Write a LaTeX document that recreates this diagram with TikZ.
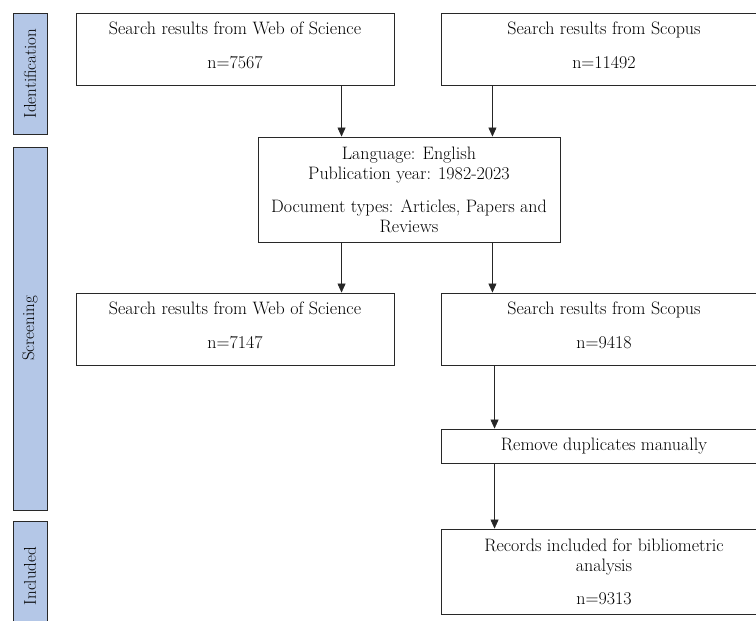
\documentclass[tikz,border=0pt]{standalone}
\usepackage{tikz}
\usetikzlibrary{arrows.meta, positioning, calc}
\definecolor{stageblue}{RGB}{180, 199, 231}
\definecolor{edgegray}{RGB}{40, 40, 40}

\begin{document}
\begin{tikzpicture}[x=1pt, y=-1pt,
    box/.style={draw=edgegray, line width=0.9pt, rectangle, align=center, inner sep=0pt, font=\fontsize{18}{20}\selectfont},
    stage/.style={draw=edgegray, line width=0.9pt, fill=stageblue, rectangle, minimum width=34pt, inner sep=0pt},
    stagetext/.style={rotate=90, font=\fontsize{17}{20}\selectfont},
    arr/.style={-{Triangle[length=9pt, width=8pt]}, line width=0.6pt, draw=black!85}]
    \clip (0,0) rectangle (756,621);

    % Stage bars
    \node[stage, minimum height=121pt] (ident) at (30,73.5) {};
    \node[stagetext] (identtxt) at (ident.center) {Identification};
    \node[stage, minimum height=363pt] (screen) at (30,328.5) {};
    \node[stagetext] (screentxt) at (screen.center) {Screening};
    \node[stage, minimum height=110pt] (incl) at (30,576) {};
    \node[stagetext] (incltxt) at (incl.center) {Included};

    % Identification
    \node[box, minimum width=318pt, minimum height=72pt] (wos1) at (235,49) {Search results from Web of Science\\[14pt]n=7567\\[-12pt]};
    \node[box, minimum width=326pt, minimum height=72pt] (scop1) at (604,49) {Search results from Scopus\\[14pt]n=11492\\[-12pt]};

    % Filters
    \node[box, minimum width=302pt, minimum height=105pt] (filt) at (409,189.5) {Language: English\\Publication year: 1982-2023\\[13pt]Document types: Articles, Papers and\\Reviews};

    % Screening
    \node[box, minimum width=318pt, minimum height=72pt] (wos2) at (235,329) {Search results from Web of Science\\[14pt]n=7147\\[-12pt]};
    \node[box, minimum width=326pt, minimum height=72pt] (scop2) at (604,329) {Search results from Scopus\\[14pt]n=9418\\[-12pt]};
    \node[box, minimum width=326pt, minimum height=34pt] (dupl) at (604,446) {Remove duplicates manually};

    % Included
    \node[box, minimum width=326pt, minimum height=85pt] (recs) at (604,571.5) {Records included for bibliometric\\analysis\\[13pt]n=9313};

    % Arrows
    \draw[arr] ([xshift=84pt]filt.north west |- wos1.south) -- ([xshift=84pt]filt.north west);
    \draw[arr] ([xshift=-68pt]filt.north east |- scop1.south) -- ([xshift=-68pt]filt.north east);
    \draw[arr] ([xshift=84pt]filt.south west) -- ([xshift=84pt]filt.south west |- wos2.north);
    \draw[arr] ([xshift=-68pt]filt.south east) -- ([xshift=-68pt]filt.south east |- scop2.north);
    \draw[arr] ([xshift=54pt]scop2.south west) -- ([xshift=54pt]scop2.south west |- dupl.north);
    \draw[arr] ([xshift=54pt]dupl.south west) -- ([xshift=54pt]dupl.south west |- recs.north);
\end{tikzpicture}
\end{document}
